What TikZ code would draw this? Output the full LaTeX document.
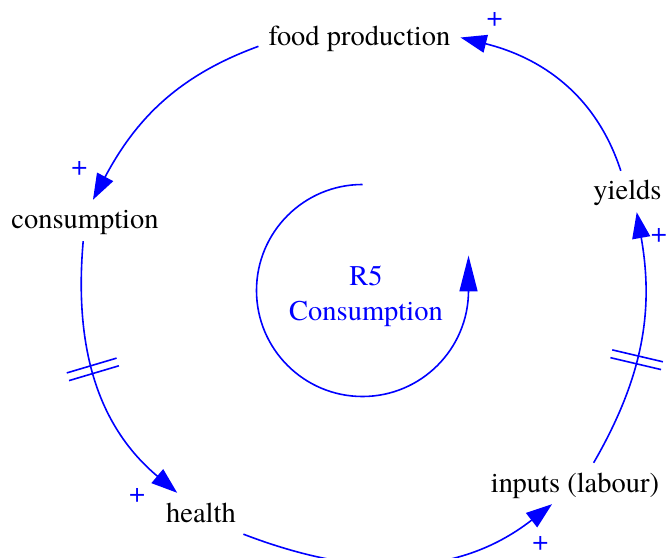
\documentclass[tikz,border=0pt]{standalone}
\usepackage{fontspec}
\setmainfont{texgyretermes-regular.otf}
\usetikzlibrary{arrows.meta,decorations.markings}
\pgfdeclarelayer{edgelayer}
\pgfdeclarelayer{nodelayer}
\pgfsetlayers{edgelayer,nodelayer,main}
\definecolor{cldblue}{RGB}{0,0,255}
\tikzstyle{cldvar}=[inner xsep=10pt, inner ysep=8pt, text height=21pt, text depth=4pt, font=\fontsize{28.5}{35}\selectfont]
\tikzstyle{polarity}=[text=cldblue, inner sep=0pt, font=\fontsize{28.5}{35}\selectfont]
\tikzstyle{loopname}=[text=cldblue, align=center, inner sep=0pt, font=\fontsize{28.5}{35}\selectfont]
\tikzstyle{causal}=[draw=cldblue, line width=1.6pt, -{Triangle[length=26pt,width=18pt]}]
\tikzstyle{looplink}=[draw=cldblue, line width=1.6pt, -{Triangle[length=36pt,width=18pt]}]
\tikzset{delaylink/.style={postaction={decorate}, decoration={markings, mark=at position #1 with {\draw[-, cldblue, line width=1.6pt] (-4pt,-26pt) -- (-4pt,26pt) (4pt,-26pt) -- (4pt,26pt);}}}}

\begin{document}
\begin{tikzpicture}[x=1pt,y=1pt]
	\useasboundingbox (0,0) rectangle (668,557);
	\begin{pgfonlayer}{nodelayer}

	%variables
		\node [style=cldvar, anchor=base] (food) at (359.5,511) {food production};
		\node [style=cldvar, anchor=base] (cons) at (85,328) {consumption};
		\node [style=cldvar, anchor=base] (yields) at (627.5,357) {yields};
		\node [style=cldvar, anchor=base] (health) at (201,35) {health};
		\node [style=cldvar, anchor=base] (inputs) at (575,65) {inputs (labour)};

	%polarities
		\node [style=polarity] (p1) at (79.5,388.3) {+};
		\node [style=polarity] (p2) at (137.2,61.2) {+};
		\node [style=polarity] (p3) at (540.5,13.7) {+};
		\node [style=polarity] (p4) at (659,322) {+};
		\node [style=polarity] (p5) at (494.7,537.5) {+};

	%loop R5
		\node [style=loopname] (r5) at (366,261) {R5\\Consumption};
		\coordinate (loopc) at (362.5,266.5);

	\end{pgfonlayer}
	\begin{pgfonlayer}{edgelayer}

		%links
		\draw [style=causal] (food.185) to[out=200,in=62] (cons.69);
		\draw [style=causal, delaylink=0.46] (cons.265) to[out=265,in=140] (health.139);
		\draw [style=causal] (health.334) to[out=339,in=218] (inputs.222);
		\draw [style=causal, delaylink=0.43] (inputs.48) to[out=60,in=280] (yields.294);
		\draw [style=causal] (yields.108) to[out=108,in=346] (food.east);

		%loop R5
		\draw [style=looplink] (loopc) ++(90:106) arc[start angle=90,end angle=360,radius=106] -- ++(0,35);

	\end{pgfonlayer}
\end{tikzpicture}
\end{document}
